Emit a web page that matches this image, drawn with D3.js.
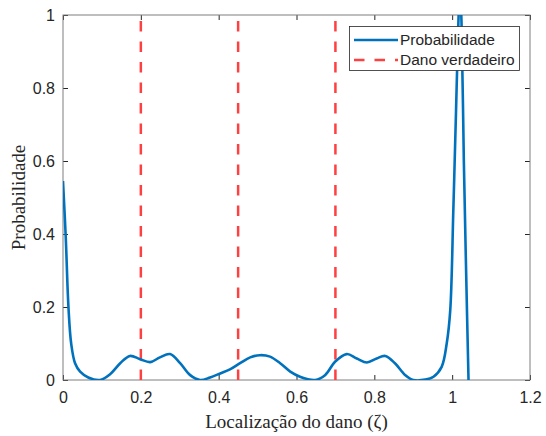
<!DOCTYPE html>
<html>
<head>
<meta charset="utf-8">
<script src="https://cdn.jsdelivr.net/npm/d3@7"></script>
<style>
	body { margin: 0; background: #fff; }
	svg { display: block; }
</style>
</head>
<body>
<svg id="drawing_region"></svg>
<script>
// position along the beam and probability
const zeta = [0.000, 0.007, 0.014, 0.021, 0.031, 0.044, 0.065, 0.095, 0.121, 0.147,
	0.172, 0.198, 0.224, 0.249, 0.275, 0.301, 0.326, 0.352, 0.378, 0.404,
	0.429, 0.455, 0.481, 0.506, 0.532, 0.558, 0.584, 0.609, 0.648, 0.674,
	0.699, 0.729, 0.755, 0.781, 0.806, 0.828, 0.853, 0.879, 0.900, 0.931,
	0.952, 0.973, 0.986, 0.995, 1.003, 1.010, 1.016, 1.020, 1.024, 1.030,
	1.036, 1.042];
const prob = [0.545, 0.393, 0.200, 0.100, 0.046, 0.023, 0.007, 0.000, 0.016, 0.046,
	0.066, 0.057, 0.049, 0.062, 0.071, 0.046, 0.014, 0.000, 0.007, 0.018,
	0.029, 0.046, 0.062, 0.068, 0.064, 0.046, 0.023, 0.009, 0.000, 0.014,
	0.050, 0.071, 0.059, 0.048, 0.059, 0.066, 0.046, 0.014, 0.000, 0.001,
	0.009, 0.036, 0.100, 0.190, 0.466, 0.740, 0.980, 1.080, 0.980, 0.600,
	0.290, 0.000];

const damageLocs = [0.2, 0.45, 0.7];
const xTicks = [0, 0.2, 0.4, 0.6, 0.8, 1, 1.2];
const yTicks = [0, 0.2, 0.4, 0.6, 0.8, 1];
const legendLabels = ['Probabilidade', 'Dano verdadeiro'];
const xLabel = 'Localização do dano (ζ)';
const yLabel = 'Probabilidade';

const config = {
	parent: '#drawing_region',
	width: 546,
	height: 436,
	margin: {left: 63, top: 15, right: 16, bottom: 56}
};

class ProbPlot {

	constructor( config ) {
		this.config = config;
		this.init();
	}

	init() {
		let self = this;
		let m = self.config.margin;
		self.inner_width = self.config.width - m.left - m.right;
		self.inner_height = self.config.height - m.top - m.bottom;

		self.svg = d3.select( self.config.parent )
			.attr('width', self.config.width)
			.attr('height', self.config.height);

		self.chart = self.svg.append('g')
			.attr('transform', `translate(${m.left}, ${m.top})`);

		self.xscale = d3.scaleLinear()
			.domain([0, 1.2])
			.range([0, self.inner_width]);

		self.yscale = d3.scaleLinear()
			.domain([0, 1])
			.range([self.inner_height, 0]);

		self.svg.append('defs').append('clipPath')
			.attr('id', 'plot_clip')
			.append('rect')
			.attr('width', self.inner_width)
			.attr('height', self.inner_height);
	}

	render() {
		let self = this;
		let fmt = d => String(+d.toFixed(1));
		let tlen = 5;

		// ticks on all four sides, pointing inwards
		self.chart.append('g')
			.attr('transform', `translate(0, ${self.inner_height})`)
			.call( d3.axisBottom(self.xscale).tickValues(xTicks).tickSize(-tlen).tickPadding(12).tickFormat(fmt) );
		self.chart.append('g')
			.call( d3.axisTop(self.xscale).tickValues(xTicks).tickSize(-tlen).tickFormat('') );
		self.chart.append('g')
			.call( d3.axisLeft(self.yscale).tickValues(yTicks).tickSize(-tlen).tickPadding(8).tickFormat(fmt) );
		self.chart.append('g')
			.attr('transform', `translate(${self.inner_width}, 0)`)
			.call( d3.axisRight(self.yscale).tickValues(yTicks).tickSize(-tlen).tickFormat('') );

		self.chart.selectAll('.domain').remove();
		self.chart.selectAll('.tick line').attr('stroke', '#262626');
		self.chart.selectAll('.tick text')
			.attr('fill', '#262626')
			.style('font-family', '"Liberation Sans", Arial, sans-serif')
			.style('font-size', '16px');

		self.chart.append('rect')
			.attr('width', self.inner_width)
			.attr('height', self.inner_height)
			.attr('fill', 'none')
			.attr('stroke', '#7f7f7f')
			.attr('stroke-width', 1);

		// true damage positions, drawn upward from zero
		self.chart.selectAll('.dano')
			.data(damageLocs)
			.enter()
			.append('line')
			.attr('x1', d => self.xscale(d))
			.attr('x2', d => self.xscale(d))
			.attr('y1', self.yscale(0))
			.attr('y2', self.yscale(1))
			.attr('stroke', '#ff4040')
			.attr('stroke-width', 2.5)
			.attr('stroke-dasharray', '10.5,10');

		let line = d3.line()
			.x( (d, i) => self.xscale(zeta[i]) )
			.y( d => self.yscale(d) )
			.curve(d3.curveCatmullRom);

		self.chart.append('path')
			.datum(prob)
			.attr('clip-path', 'url(#plot_clip)')
			.attr('d', line)
			.attr('fill', 'none')
			.attr('stroke', '#0072bd')
			.attr('stroke-width', 2.6);

		// legend
		let lg = self.svg.append('g')
			.attr('transform', 'translate(349.5, 26.5)');
		lg.append('rect')
			.attr('width', 170)
			.attr('height', 44)
			.attr('fill', '#fff')
			.attr('stroke', '#262626')
			.attr('stroke-width', 0.8);
		let styles = [{c: '#0072bd', dash: null}, {c: '#ff4040', dash: '10.5,10'}];
		legendLabels.forEach( (label, i) => {
			let yy = 13.5 + i * 20;
			lg.append('line')
				.attr('x1', 4.5).attr('x2', 48.5)
				.attr('y1', yy).attr('y2', yy)
				.attr('stroke', styles[i].c)
				.attr('stroke-width', 2.5)
				.attr('stroke-dasharray', styles[i].dash);
			lg.append('text')
				.attr('x', 50.5)
				.attr('y', yy)
				.attr('dy', '0.35em')
				.attr('fill', '#262626')
				.style('font-family', '"Liberation Sans", Arial, sans-serif')
				.style('font-size', '15.5px')
				.text(label);
		});

		// axis titles
		self.svg.append('text')
			.attr('x', self.config.margin.left + self.inner_width / 2)
			.attr('y', 428)
			.attr('text-anchor', 'middle')
			.attr('fill', '#262626')
			.style('font-family', '"Liberation Serif", "Times New Roman", serif')
			.style('font-size', '19px')
			.text(xLabel);

		self.svg.append('text')
			.attr('transform', `translate(25, ${self.config.margin.top + self.inner_height / 2}) rotate(-90)`)
			.attr('text-anchor', 'middle')
			.attr('fill', '#262626')
			.style('font-family', '"Liberation Serif", "Times New Roman", serif')
			.style('font-size', '19px')
			.text(yLabel);
	}
}

const plot = new ProbPlot( config );
plot.render();
</script>
</body>
</html>
